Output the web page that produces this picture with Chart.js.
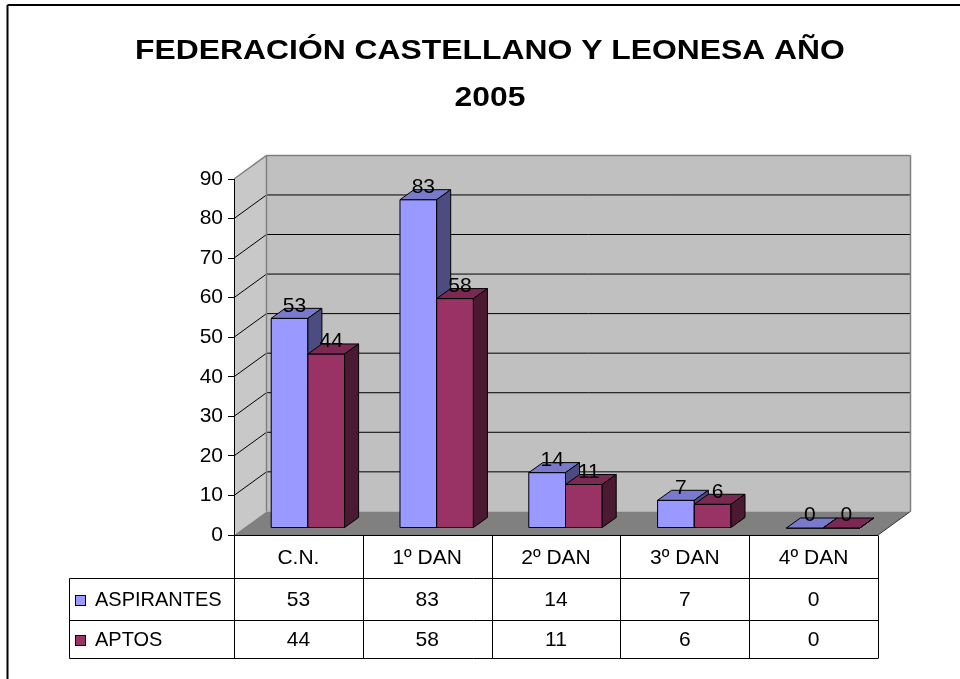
<!DOCTYPE html>
<html>
<head>
<meta charset="utf-8">
<script src="https://cdn.jsdelivr.net/npm/chart.js@4.4.0/dist/chart.umd.min.js"></script>
<style>
html, body { margin: 0; padding: 0; background: #fff; }
canvas { display: block; }
</style>
</head>
<body>
<canvas id="grafica" width="960" height="679"></canvas>
<script>
// datos
var titulo = ['FEDERACIÓN CASTELLANO Y LEONESA AÑO', '2005'];
var categorias = ['C.N.', '1º DAN', '2º DAN', '3º DAN', '4º DAN'];
var nombres = ['ASPIRANTES', 'APTOS'];
var aspirantes = [53, 83, 14, 7, 0];
var aptos = [44, 58, 11, 6, 0];
var ticksY = [0, 10, 20, 30, 40, 50, 60, 70, 80, 90];

// estilos
var FUENTE = '"Liberation Sans", Arial, sans-serif';
var colores = [
    { frente: '#9999FF', arriba: '#7A7ACC', lado: '#4C4C80' },
    { frente: '#993366', arriba: '#7A2952', lado: '#4C1933' }
];
var FONDO = { dx: 32.5, dy: -23.6 };                 // profundidad de las paredes
var BARRA = { tx: 9.5, ty: -7, dx: 14, dy: -10 };     // desplazamiento y grosor de las barras
var FILAS = [0, 43, 84.5, 122.5];                    // alto de las filas de la tabla
var TABLA_IZQ = 69.5;

function poligono(ctx, pts, relleno, trazo) {
    ctx.beginPath();
    ctx.moveTo(pts[0][0], pts[0][1]);
    for (var i = 1; i < pts.length; i++) ctx.lineTo(pts[i][0], pts[i][1]);
    ctx.closePath();
    if (relleno) { ctx.fillStyle = relleno; ctx.fill(); }
    if (trazo) { ctx.strokeStyle = trazo; ctx.lineWidth = 1; ctx.stroke(); }
}

function linea(ctx, x1, y1, x2, y2, color, ancho) {
    ctx.beginPath();
    ctx.moveTo(x1, y1);
    ctx.lineTo(x2, y2);
    ctx.strokeStyle = color;
    ctx.lineWidth = ancho || 1;
    ctx.stroke();
}

var decorado = {
    id: 'decorado',
    beforeDraw: function(chart) {
        var ctx = chart.ctx, a = chart.chartArea, ys = chart.scales.y, xs = chart.scales.x;
        ctx.save();
        // marco
        linea(ctx, 7.5, 5, chart.width, 5, '#000', 2);
        linea(ctx, 7.5, 5, 7.5, chart.height, '#000', 2);

        // titulo
        ctx.fillStyle = '#000';
        ctx.font = 'bold 27px ' + FUENTE;
        ctx.textAlign = 'center';
        ctx.textBaseline = 'alphabetic';
        var base = [59, 106];
        titulo.forEach(function(t, i) {
            ctx.save();
            ctx.translate(490, base[i]);
            ctx.scale(1.18, 1);
            ctx.fillText(t, 0, 0);
            ctx.restore();
        });

        var top = ys.getPixelForValue(ticksY[ticksY.length - 1]);
        var bot = ys.getPixelForValue(0);
        var L = a.left, R = a.right;
        // pared izquierda
        poligono(ctx, [[L, top], [L + FONDO.dx, top + FONDO.dy], [L + FONDO.dx, bot + FONDO.dy], [L, bot]], '#C8C8C8', null);
        // pared del fondo
        poligono(ctx, [[L + FONDO.dx, top + FONDO.dy], [R + FONDO.dx, top + FONDO.dy], [R + FONDO.dx, bot + FONDO.dy], [L + FONDO.dx, bot + FONDO.dy]], '#C0C0C0', null);
        // lineas de division
        ticksY.forEach(function(v) {
            if (v === 0 || v === ticksY[ticksY.length - 1]) return;
            var y = ys.getPixelForValue(v);
            linea(ctx, L, y, L + FONDO.dx, y + FONDO.dy, '#000', 1);
            linea(ctx, L + FONDO.dx, y + FONDO.dy, R + FONDO.dx, y + FONDO.dy, '#000', 1);
        });
        // bordes grises de las paredes
        linea(ctx, L, top, L + FONDO.dx, top + FONDO.dy, '#808080', 1.5);
        linea(ctx, L + FONDO.dx, top + FONDO.dy, R + FONDO.dx, top + FONDO.dy, '#808080', 1.5);
        linea(ctx, L + FONDO.dx, top + FONDO.dy, L + FONDO.dx, bot + FONDO.dy, '#808080', 1.5);
        linea(ctx, R + FONDO.dx, top + FONDO.dy, R + FONDO.dx, bot + FONDO.dy, '#808080', 1.5);
        // suelo
        poligono(ctx, [[L, bot], [R, bot], [R + FONDO.dx, bot + FONDO.dy], [L + FONDO.dx, bot + FONDO.dy]], '#808080', null);
        linea(ctx, R, bot, R + FONDO.dx, bot + FONDO.dy, '#333', 1);

        // tabla de datos
        var n = categorias.length;
        var celda = (R - L) / n;
        var y0 = bot;
        var fy = FILAS.map(function(f) { return Math.round(y0 + f) + 0.5; });
        linea(ctx, L, fy[0], R, fy[0], '#000', 1);
        for (var f = 1; f < fy.length; f++) linea(ctx, TABLA_IZQ, fy[f], R, fy[f], '#000', 1);
        linea(ctx, TABLA_IZQ, fy[1], TABLA_IZQ, fy[3], '#000', 1);
        for (var c = 0; c <= n; c++) {
            var xc = Math.round(L + c * celda) + 0.5;
            linea(ctx, xc, fy[0], xc, fy[3], '#000', 1);
        }
        ctx.font = '21px ' + FUENTE;
        ctx.textBaseline = 'middle';
        ctx.textAlign = 'center';
        ctx.fillStyle = '#000';
        var series = [aspirantes, aptos];
        categorias.forEach(function(cat, i) {
            var cx = xs.getPixelForValue(i);
            ctx.fillText(cat, cx, (fy[0] + fy[1]) / 2 + 1);
            series.forEach(function(s, k) {
                ctx.fillText(String(s[i]), cx, (fy[k + 1] + fy[k + 2]) / 2 + 1);
            });
        });
        ctx.font = '20px ' + FUENTE;
        nombres.forEach(function(nom, k) {
            var cy = (fy[k + 1] + fy[k + 2]) / 2;
            ctx.fillStyle = colores[k].frente;
            ctx.fillRect(75.5, cy - 4, 10, 10);
            ctx.strokeStyle = '#000';
            ctx.lineWidth = 1;
            ctx.strokeRect(75.5, cy - 4, 10, 10);
            ctx.fillStyle = '#000';
            ctx.textAlign = 'left';
            ctx.fillText(nom, 95, cy + 1);
        });
        ctx.restore();
    },
    beforeDatasetsDraw: function(chart) {
        chart.ctx.save();
        chart.ctx.translate(BARRA.tx, BARRA.ty);
    },
    afterDatasetsDraw: function(chart) {
        var ctx = chart.ctx;
        ctx.restore();
        ctx.save();
        ctx.lineJoin = 'miter';
        var metas = chart.data.datasets.map(function(d, k) { return chart.getDatasetMeta(k); });
        categorias.forEach(function(cat, i) {
            metas.forEach(function(meta, k) {
                var el = meta.data[i];
                var l = el.x - el.width / 2 + BARRA.tx, r = el.x + el.width / 2 + BARRA.tx;
                var t = el.y + BARRA.ty, b = el.base + BARRA.ty;
                var c = colores[k];
                poligono(ctx, [[l, t], [r, t], [r, b], [l, b]], c.frente, '#000');
                poligono(ctx, [[l, t], [r, t], [r + BARRA.dx, t + BARRA.dy], [l + BARRA.dx, t + BARRA.dy]], c.arriba, '#000');
                poligono(ctx, [[r, t], [r + BARRA.dx, t + BARRA.dy], [r + BARRA.dx, b + BARRA.dy], [r, b]], c.lado, '#000');
            });
        });
        // etiquetas de valor
        ctx.font = '21px ' + FUENTE;
        ctx.fillStyle = '#000';
        ctx.textAlign = 'center';
        ctx.textBaseline = 'middle';
        metas.forEach(function(meta, k) {
            meta.data.forEach(function(el, i) {
                var v = chart.data.datasets[k].data[i];
                ctx.fillText(String(v), el.x + BARRA.tx + 5, el.y + BARRA.ty - 12.5);
            });
        });
        ctx.restore();
    }
};

var ctx = document.getElementById('grafica').getContext('2d');
var grafica = new Chart(ctx, {
    type: 'bar',
    data: {
        labels: categorias,
        datasets: [
            { label: nombres[0], data: aspirantes, backgroundColor: colores[0].frente, borderColor: '#000', borderWidth: 1, categoryPercentage: 0.57, barPercentage: 1 },
            { label: nombres[1], data: aptos, backgroundColor: colores[1].frente, borderColor: '#000', borderWidth: 1, categoryPercentage: 0.57, barPercentage: 1 }
        ]
    },
    options: {
        responsive: false,
        animation: false,
        devicePixelRatio: 1,
        clip: false,
        layout: { padding: { left: 0, right: 82, top: 179, bottom: 144 } },
        plugins: {
            legend: { display: false },
            title: { display: false },
            tooltip: { enabled: false }
        },
        scales: {
            x: { display: false },
            y: {
                min: 0,
                max: 90,
                afterBuildTicks: function(s) { s.ticks = ticksY.map(function(v) { return { value: v }; }); },
                afterFit: function(s) { s.width = 234; },
                ticks: { color: '#000', font: { family: FUENTE, size: 21 }, padding: 5 },
                grid: { drawOnChartArea: false, drawTicks: true, tickLength: 6, color: '#000' },
                border: { display: true, color: '#000', width: 1 }
            }
        }
    },
    plugins: [decorado]
});
</script>
</body>
</html>
